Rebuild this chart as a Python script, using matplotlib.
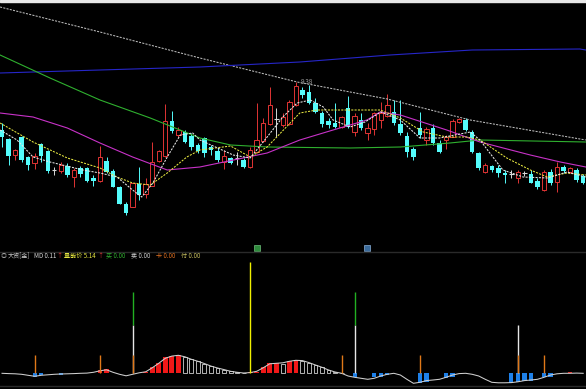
import numpy as np
import matplotlib.pyplot as plt
from matplotlib.patches import Rectangle
from matplotlib.lines import Line2D

plt.rcParams['font.family'] = ['Noto Sans CJK SC', 'DejaVu Sans']

# K线: 开 高 低 收
opens = [8.90, 8.81, 8.65, 8.83, 8.63, 8.57, 8.76, 8.69, 8.50, 8.49,
         8.54, 8.43, 8.52, 8.52, 8.42, 8.39, 8.59, 8.49, 8.33, 8.16,
         8.13, 8.36, 8.26, 8.34, 8.59, 8.64, 8.99, 8.85, 8.88, 8.84,
         8.75, 8.82, 8.73, 8.69, 8.58, 8.62, 8.62, 8.60, 8.53, 8.68,
         8.79, 8.96, 9.01, 8.95, 8.96, 9.15, 9.30, 9.28, 9.17, 9.07,
         8.99, 8.97, 8.93, 9.12, 8.88, 9.00, 8.87, 8.91, 9.00, 9.04,
         9.08, 8.96, 8.84, 8.71, 8.92, 8.80, 8.92, 8.77, 8.80, 8.83,
         8.98, 9.00, 8.88, 8.67, 8.48, 8.54, 8.52, 8.47, 8.46, 8.42,
         8.47, 8.46, 8.39, 8.30, 8.48, 8.38, 8.53, 8.48, 8.50, 8.44]
highs = [8.97, 8.82, 8.71, 8.84, 8.64, 8.67, 8.77, 8.70, 8.53, 8.58,
         8.57, 8.52, 8.54, 8.53, 8.45, 8.74, 8.63, 8.51, 8.34, 8.18,
         8.37, 8.53, 8.42, 8.78, 8.70, 9.16, 9.09, 8.93, 8.90, 8.87,
         8.77, 8.83, 8.75, 8.72, 8.70, 8.63, 8.68, 8.62, 8.73, 9.17,
         9.02, 9.33, 9.12, 9.07, 9.20, 9.38, 9.33, 9.35, 9.22, 9.09,
         9.02, 9.17, 9.04, 9.24, 9.07, 9.07, 8.97, 9.08, 9.18, 9.26,
         9.20, 9.20, 8.88, 8.73, 9.08, 8.93, 8.96, 8.80, 8.85, 9.01,
         9.02, 9.02, 8.90, 8.68, 8.57, 8.55, 8.55, 8.50, 8.50, 8.50,
         8.49, 8.50, 8.42, 8.50, 8.51, 8.58, 8.55, 8.53, 8.52, 8.46]
lows = [8.73, 8.55, 8.60, 8.58, 8.50, 8.51, 8.58, 8.47, 8.45, 8.47,
        8.43, 8.33, 8.43, 8.38, 8.34, 8.38, 8.47, 8.33, 8.16, 8.05,
        8.13, 8.20, 8.22, 8.34, 8.58, 8.63, 8.87, 8.83, 8.77, 8.70,
        8.67, 8.63, 8.65, 8.58, 8.51, 8.56, 8.55, 8.52, 8.52, 8.67,
        8.78, 8.95, 8.83, 8.93, 8.95, 9.14, 9.22, 9.16, 9.07, 8.93,
        8.92, 8.92, 8.92, 8.92, 8.84, 8.90, 8.80, 8.85, 8.92, 9.03,
        8.95, 8.85, 8.63, 8.60, 8.82, 8.75, 8.75, 8.67, 8.71, 8.83,
        8.97, 8.89, 8.67, 8.50, 8.47, 8.48, 8.43, 8.37, 8.42, 8.37,
        8.44, 8.37, 8.31, 8.29, 8.35, 8.28, 8.47, 8.47, 8.38, 8.36]
closes = [8.83, 8.64, 8.70, 8.60, 8.55, 8.64, 8.64, 8.49, 8.50, 8.55,
          8.45, 8.50, 8.46, 8.39, 8.39, 8.63, 8.48, 8.33, 8.16, 8.07,
          8.37, 8.25, 8.36, 8.58, 8.69, 8.99, 8.89, 8.90, 8.78, 8.73,
          8.69, 8.67, 8.70, 8.60, 8.64, 8.57, 8.62, 8.53, 8.70, 8.80,
          8.97, 9.15, 9.01, 9.03, 9.18, 9.34, 9.25, 9.17, 9.08, 8.96,
          8.95, 8.93, 9.03, 8.93, 9.04, 8.92, 8.92, 9.07, 9.07, 9.15,
          8.97, 8.87, 8.68, 8.63, 8.85, 8.91, 8.77, 8.68, 8.83, 8.99,
          9.01, 8.90, 8.68, 8.52, 8.55, 8.50, 8.47, 8.45, 8.46, 8.48,
          8.47, 8.37, 8.33, 8.48, 8.37, 8.53, 8.49, 8.52, 8.40, 8.37]

# 均线 (读图取点: 位置, 价格)
gray_x = [-0.3, 15, 30.3, 45.2, 59, 71.7, 89.4]
gray_y = [10.13, 9.88, 9.62, 9.38, 9.21, 9.00, 8.80]
blue_x = [-0.3, 15, 30.3, 45.6, 59.4, 72, 88.5, 89.4]
blue_y = [9.47, 9.50, 9.53, 9.58, 9.65, 9.70, 9.71, 9.70]
green_x = [-0.3, 7.35, 15, 22.7, 30.3, 35, 40.6, 53.3, 61, 68.6, 73.2, 89.4]
green_y = [9.65, 9.42, 9.20, 9.02, 8.82, 8.75, 8.73, 8.72, 8.73, 8.77, 8.80, 8.78]
mag_x = [-0.3, 4.75, 10, 15, 20, 25.3, 30.3, 40.6, 45.6, 50.7, 55.9, 57.9, 61,
         68.1, 73.2, 80.9, 85.5, 89.4]
mag_y = [9.07, 9.03, 8.92, 8.77, 8.63, 8.50, 8.53, 8.67, 8.80, 8.90, 9.00, 9.08, 9.05,
         8.90, 8.78, 8.65, 8.58, 8.53]
yel_x = [-0.3, 4.75, 10, 15, 17.6, 20, 22.7, 25.3, 28.3, 30.3, 35, 38, 40.6, 45.6,
         48.2, 50.7, 57.9, 61, 64.5, 68.1, 71.2, 73.2, 77.3, 80.9, 83.5, 86.5, 89.4]
yel_y = [8.97, 8.78, 8.62, 8.52, 8.43, 8.37, 8.35, 8.47, 8.63, 8.70, 8.74, 8.63, 8.73, 9.07,
         9.10, 9.10, 9.10, 9.02, 8.88, 8.83, 8.83, 8.80, 8.62, 8.50, 8.43, 8.47, 8.45]
wht_x = [-0.3, 2.3, 4.75, 7.35, 12.4, 15, 17.6, 20, 21.4, 23.1, 25.3, 27.3, 29.2, 30.3,
         35.4, 38, 40.6, 43, 45.2, 47.2, 49.2, 50.7, 53.3, 55.6, 58, 61, 64, 67, 71.7,
         73.2, 74.7, 76.7, 79.8, 83.5, 86.5, 89.4]
wht_y = [8.90, 8.80, 8.63, 8.58, 8.50, 8.47, 8.43, 8.30, 8.23, 8.37, 8.63, 8.85, 8.87, 8.80,
         8.65, 8.62, 8.83, 9.03, 9.17, 9.20, 9.13, 9.00, 8.93, 8.98, 9.08, 9.00, 8.82, 8.82, 8.88,
         8.80, 8.67, 8.50, 8.43, 8.42, 8.48, 8.43]

# 副图指标
hist = [0, 0, 0, 0, 0, -0.33, -0.17, 0, 0, -0.17,
        0, 0, 0.05, 0, 0.07, 0.3, 0.4, 0, 0, 0,
        0, 0.07, 0.15, 0.6, 1.05, 1.6, 1.75, 1.8, 1.65, 1.4,
        1.2, 0.97, 0.7, 0.53, 0.37, 0.2, 0.1, 0.05, 0.1, 0.15,
        0.6, 1.0, 1.02, 0.98, 1.23, 1.3, 1.27, 1.07, 0.83, 0.6,
        0.33, 0.13, 0.03, 0, -0.33, 0, 0, -0.4, -0.33, -0.17,
        0, 0, 0, 0, -0.93, -0.83, 0, 0, -0.5, -0.33,
        0, 0, 0, 0, 0, 0, 0, 0, -1.0, -0.9,
        -0.73, -0.73, 0, -0.4, -0.33, 0, 0.05, 0.1, 0, 0]
curve = [0, -0.03, -0.05, -0.1, -0.2, -0.3, -0.2, -0.15, -0.1, -0.07,
         -0.05, -0.03, 0, 0.02, 0.1, 0.25, 0.35, 0.1, -0.1, -0.25,
         -0.1, 0.05, 0.15, 0.55, 1.0, 1.5, 1.72, 1.8, 1.65, 1.4,
         1.2, 0.97, 0.72, 0.53, 0.37, 0.2, 0.1, 0.03, 0.07, 0.2,
         0.55, 0.95, 1.0, 1.05, 1.2, 1.3, 1.27, 1.07, 0.83, 0.6,
         0.33, 0.13, 0, -0.27, -0.4, -0.5, -0.6, -0.5, -0.27, -0.1,
         0, -0.17, -0.6, -1.0, -0.9, -0.73, -0.67, -0.6, -0.4, -0.17,
         -0.03, 0, -0.1, -0.27, -0.6, -0.9, -0.95, -0.95, -0.93, -0.85,
         -0.73, -0.67, -0.6, -0.4, -0.17, -0.05, 0, 0, 0.02, 0]
orange_at = [5, 15, 20, 52, 64, 79, 83]
orange_h = 1.8
white_at = [20, 54, 79]
white_h = 4.8
green_at = [20, 54]
green_h = 8.1
yellow_at = [38]
yellow_h = 11.1

red = '#e03434'
cyan = '#54fcfc'

fig = plt.figure(figsize=(5.86, 3.89), dpi=100, facecolor='black')
ax = fig.add_axes([0, 139 / 389, 1, 250 / 389])
ax2 = fig.add_axes([0, 3 / 389, 1, 134 / 389])
for a in (ax, ax2):
    a.set_facecolor('black')
    a.set_xlim(-0.31, 89.43)
    a.axis('off')
ax.set_ylim(7.70, 10.20)
ax2.set_ylim(-1.27, 12.13)

idx = np.arange(len(opens))
o, h, l, c = map(np.array, (opens, highs, lows, closes))
up = c > o
dn = c < o
fl = c == o
w = 0.68

ax.vlines(idx[up], l[up], h[up], color=red, lw=0.7, zorder=2)
ax.bar(idx[up], c[up] - o[up], bottom=o[up], width=w, facecolor='black',
       edgecolor=red, lw=0.7, zorder=3)
ax.vlines(idx[dn], l[dn], h[dn], color=cyan, lw=0.7, zorder=2)
ax.bar(idx[dn], o[dn] - c[dn], bottom=c[dn], width=w, color=cyan, zorder=3)
ax.vlines(idx[fl], l[fl], h[fl], color='#d8d8d8', lw=0.7, zorder=2)
ax.hlines(c[fl], idx[fl] - w / 2, idx[fl] + w / 2, color='#d8d8d8', lw=0.8, zorder=3)

ax.plot(gray_x, gray_y, color='#bdbdbd', lw=0.75, ls=(0, (2, 1.2)), zorder=4)
ax.plot(blue_x, blue_y, color='#2626c8', lw=0.8, zorder=4)
ax.plot(green_x, green_y, color='#2fb02f', lw=0.8, zorder=4)
ax.plot(mag_x, mag_y, color='#c832c8', lw=0.8, zorder=4)
ax.plot(yel_x, yel_y, color='#e6e640', lw=0.75, ls=(0, (2, 1.2)), zorder=4)
ax.plot(wht_x, wht_y, color='#e8e8e8', lw=0.75, ls=(0, (2, 1.2)), zorder=4)

top = int(np.argmax(h))
ax.text(top + 0.8, h[top], '9.38', color='#a0a0a0', fontsize=4.6, va='center', ha='left', zorder=5)

# 副图
hv = np.array(hist)
prev = np.concatenate([[0], hv[:-1]])
pos_up = (hv > 0) & (hv >= prev)
pos_dn = (hv > 0) & (hv < prev)
neg = hv < 0
ax2.bar(idx[pos_up], hv[pos_up], width=0.72, color='#f01818', zorder=2)
ax2.bar(idx[pos_dn], hv[pos_dn], width=0.6, facecolor='black', edgecolor='#cfcfcf', lw=0.6, zorder=2)
ax2.bar(idx[neg], hv[neg], width=0.65, color='#1e80e8', zorder=2)
ax2.plot(idx, curve, color='#d0d0d0', lw=0.75, zorder=3)
ax2.vlines(white_at, 0, white_h, color='#e6e6e6', lw=1.0, zorder=4)
ax2.vlines(orange_at, 0, orange_h, color='#e07818', lw=1.0, zorder=5)
ax2.vlines(green_at, white_h, green_h, color='#22b022', lw=1.0, zorder=5)
ax2.vlines(yellow_at, 0, yellow_h, color='#f0f000', lw=1.0, zorder=5)

# 分隔线 / 标题行
fig.add_artist(Line2D([0, 1], [1 - 251.7 / 389] * 2, transform=fig.transFigure, color='#2a2a2a', lw=1))
fig.add_artist(Line2D([0, 1], [1 - 385.7 / 389] * 2, transform=fig.transFigure, color='#2a2a2a', lw=1))
fig.add_artist(Rectangle((0, 1 - 1.5 / 389), 1, 1.5 / 389, transform=fig.transFigure, color='#e8e8e8'))
fig.add_artist(Rectangle((254 / 586, 1 - 251 / 389), 6 / 586, 6 / 389, transform=fig.transFigure,
                         facecolor='#2e8a3c', edgecolor='#6ec07a', lw=0.5))
fig.add_artist(Rectangle((364 / 586, 1 - 251 / 389), 6 / 586, 6 / 389, transform=fig.transFigure,
                         facecolor='#3a6a9a', edgecolor='#8ab0d8', lw=0.5))

ty = 1 - 255.7 / 389
items = [(0.5, '◎', '#9a9a9a'), (8, '大资[金]', '#c8c8c8'), (34, 'MD 0.11', '#d8d8d8'),
         (56, '↑', red), (64, '量能价 5.14', '#e6e640'), (97, '↑', red),
         (106, '买 0.00', '#30b030'), (131, '卖 0.00', '#d0d0d0'),
         (156, '卡 0.00', '#e07020'), (181, '付 0.00', '#c8c060')]
for x, s, col in items:
    fig.text(x / 586, ty, s, color=col, fontsize=4.4, va='center', ha='left')

fig.savefig('out.png', dpi=100, facecolor='black')
